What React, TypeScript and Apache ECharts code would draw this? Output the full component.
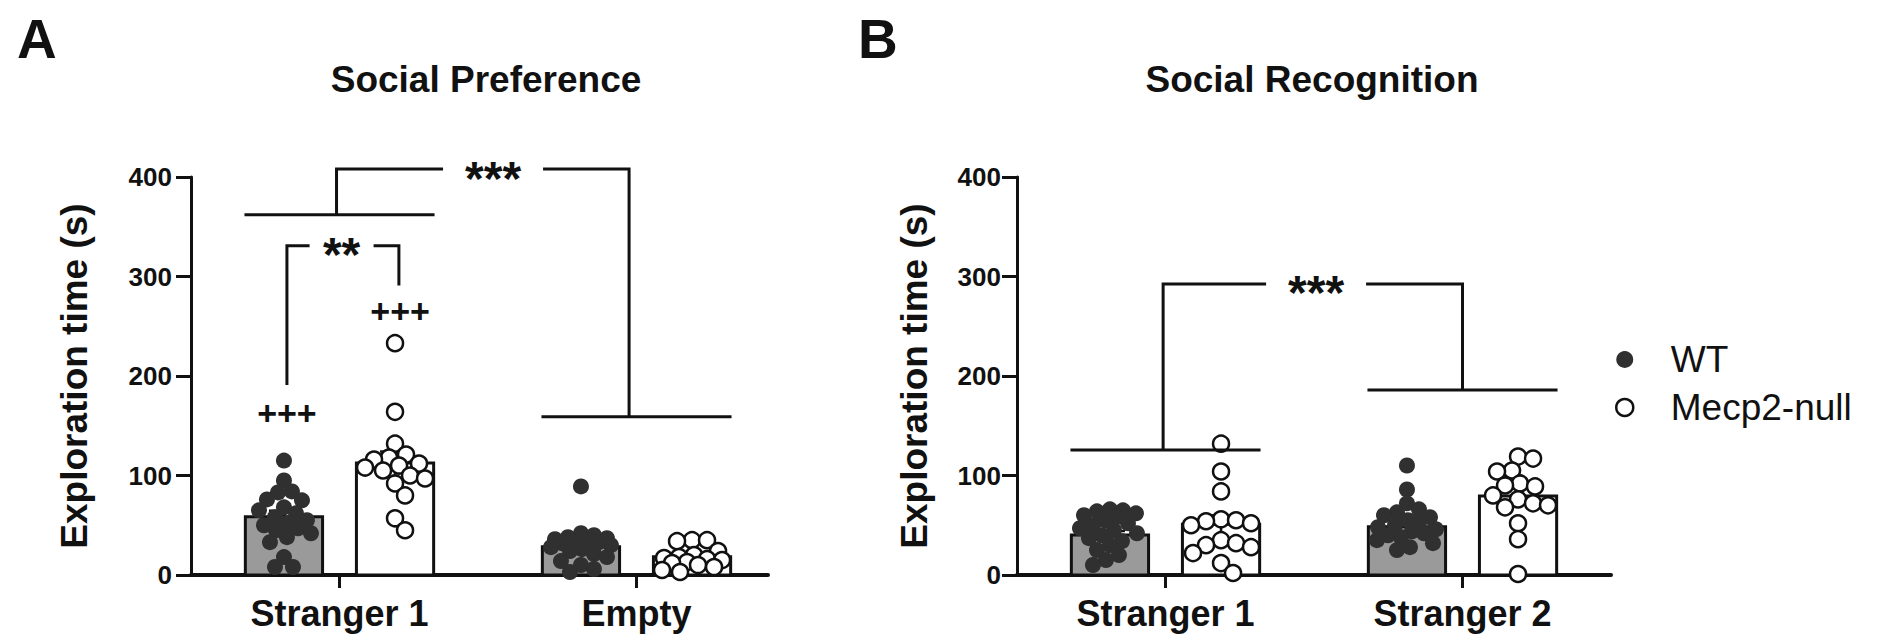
import React, { useEffect, useRef } from "react";
import * as echarts from "echarts";

const FONT = "'Liberation Sans', Arial, Helvetica, sans-serif";

// ---------- texts ----------
const panelLetters = ["A", "B"];
const panelTitles = ["Social Preference", "Social Recognition"];
const categoriesA = ["Stranger 1", "Empty"];
const categoriesB = ["Stranger 1", "Stranger 2"];
const seriesNames = ["WT", "Mecp2-null"];
const yAxisName = "Exploration time (s)";
const yMin = 0;
const yMax = 400;
const yStep = 100;

// ---------- bar means / SEM ----------
const meanWT_A = [58.6, 28.4];
const meanKO_A = [112.6, 18.4];
const semWT_A = [6, 4];
const semKO_A = [11.5, 3];
const meanWT_B = [40.2, 48.5];
const meanKO_B = [51, 79.4];
const semWT_B = [4, 5];
const semKO_B = [9, 8];

// ---------- individual animals ----------
const wtA_stranger1 = [115, 95, 84, 83, 76, 75, 68, 65, 62, 58, 55, 52, 50, 47, 45, 42, 38, 33, 18, 8, 8];
const koA_stranger1 = [233, 164, 132, 121, 118, 116, 112, 110, 108, 105, 100, 97, 92, 80, 57, 45];
const wtA_empty = [89, 42, 40, 38, 37, 36, 35, 34, 33, 32, 30, 28, 26, 24, 21, 18, 14, 10, 6, 3];
const koA_empty = [35, 35, 34, 24, 20, 18, 17, 16, 15, 13, 12, 10, 8, 5, 3];
const wtB_stranger1 = [66, 65, 64, 62, 60, 58, 55, 52, 50, 47, 45, 42, 40, 37, 34, 30, 25, 20, 15, 10];
const koB_stranger1 = [132, 104, 84, 56, 55, 54, 52, 50, 35, 32, 30, 28, 22, 12, 2];
const wtB_stranger2 = [110, 86, 72, 66, 63, 60, 58, 55, 53, 50, 48, 46, 44, 42, 40, 38, 35, 32, 28, 25];
const koB_stranger2 = [119, 117, 105, 104, 92, 90, 89, 80, 76, 72, 70, 68, 52, 36, 1];

// ---------- annotations (x in category units: category i is centred on i + 0.5) ----------
const plusLabel = "+++";
const plusMarksA = [
  [0.323, 163],
  [0.704, 265],
];
const pairLabel = "**";
// [xLeft, xRight, yLeft, yRight, yTop, labelX]
const pairBracketA = [0.323, 0.7, 191, 291, 331, 0.507];
const groupLabel = "***";
// [verticalLeft, verticalRight, groupLineLeftY, groupLineRightY, yTop, labelX]
const groupBracketA = [0.49, 1.475, 362, 159, 408, 1.017];
const groupBracketB = [0.492, 1.5, 125.6, 186, 292.5, 1.007];

// ---------- layout ----------
const GRID_TOP = 177;
const GRID_H = 398;
const PX_PER_X = 297; // pixels per category
const GRIDS = [
  { left: 191, width: 577 },
  { left: 1017, width: 594 },
];
const BAR_OFF = 0.187;
const BAR_HALF = 0.13;
const GROUP_HALF = 0.32;
const PX_PER_Y = GRID_H / (yMax - yMin);

const INK = "#111111";
const DOT = "#303030";
const BAR_GRAY = "#9a9a9a";

function swarmOffsets(values: number[], minDist: number, maxOff: number): number[] {
  const idx = values.map((_, i) => i).sort((a, b) => values[b] - values[a]);
  const placed: [number, number][] = [];
  const out = new Array(values.length).fill(0);
  for (const i of idx) {
    const y = values[i] * PX_PER_Y;
    let chosen = 0;
    let best = -1;
    for (let k = 0; k <= 2 * maxOff; k++) {
      const c = k % 2 === 1 ? (k + 1) / 2 : -k / 2;
      let md = Infinity;
      for (const [px, py] of placed) {
        const d = Math.hypot(px - c, py - y);
        if (d < md) md = d;
      }
      if (md >= minDist) {
        chosen = c;
        break;
      }
      if (md > best) {
        best = md;
        chosen = c;
      }
    }
    out[i] = chosen;
    placed.push([chosen, y]);
  }
  return out;
}

function pointsFor(values: number[], center: number, minDist: number) {
  const offs = swarmOffsets(values, minDist, 30);
  return values.map((v, i) => [center + offs[i] / PX_PER_X, v]);
}

function barRender(fill: string) {
  return (_params: any, api: any) => {
    const x = api.value(0);
    const m = api.value(1);
    const s = api.value(2);
    const bl = api.coord([x - BAR_HALF, 0]);
    const tr = api.coord([x + BAR_HALF, m]);
    const top = api.coord([x, m + s]);
    const bot = api.coord([x, Math.max(0, m - s)]);
    const cap = 15;
    const ls = { stroke: INK, lineWidth: 2.5 };
    return {
      type: "group",
      children: [
        {
          type: "rect",
          shape: { x: bl[0], y: tr[1], width: tr[0] - bl[0], height: bl[1] - tr[1] },
          style: { fill, stroke: INK, lineWidth: 3 },
        },
        { type: "line", shape: { x1: top[0], y1: top[1], x2: bot[0], y2: bot[1] }, style: ls },
        { type: "line", shape: { x1: top[0] - cap, y1: top[1], x2: top[0] + cap, y2: top[1] }, style: ls },
      ],
    };
  };
}

const lineStyle = { stroke: INK, lineWidth: 3, fill: "none" };

function starText(x: number, y: number, text: string, size: number, dy: number) {
  return {
    type: "text",
    x,
    y: y + dy,
    style: {
      text,
      fill: INK,
      fontSize: size,
      fontWeight: "bold",
      fontFamily: FONT,
      align: "center",
      verticalAlign: "middle",
    },
  };
}

function groupBracketRender(_params: any, api: any) {
  const v1 = api.value(0);
  const v2 = api.value(1);
  const y1 = api.value(2);
  const y2 = api.value(3);
  const yt = api.value(4);
  const lx = api.value(5);
  const c1 = Math.floor(v1) + 0.5;
  const c2 = Math.floor(v2) + 0.5;
  const a1 = api.coord([c1 - GROUP_HALF, y1]);
  const a2 = api.coord([c1 + GROUP_HALF, y1]);
  const b1 = api.coord([c2 - GROUP_HALF, y2]);
  const b2 = api.coord([c2 + GROUP_HALF, y2]);
  const p1 = api.coord([v1, y1]);
  const p1t = api.coord([v1, yt]);
  const p2 = api.coord([v2, y2]);
  const p2t = api.coord([v2, yt]);
  const L = api.coord([lx, yt]);
  const gap = 50;
  return {
    type: "group",
    children: [
      { type: "line", shape: { x1: a1[0], y1: a1[1], x2: a2[0], y2: a2[1] }, style: lineStyle },
      { type: "line", shape: { x1: b1[0], y1: b1[1], x2: b2[0], y2: b2[1] }, style: lineStyle },
      { type: "polyline", shape: { points: [p1, p1t, [L[0] - gap, p1t[1]]] }, style: lineStyle },
      { type: "polyline", shape: { points: [[L[0] + gap, p2t[1]], p2t, p2] }, style: lineStyle },
      starText(L[0], L[1], groupLabel, 48, 9),
    ],
  };
}

function pairBracketRender(_params: any, api: any) {
  const xl = api.value(0);
  const xr = api.value(1);
  const yl = api.value(2);
  const yr = api.value(3);
  const yt = api.value(4);
  const lx = api.value(5);
  const pl = api.coord([xl, yl]);
  const plt = api.coord([xl, yt]);
  const pr = api.coord([xr, yr]);
  const prt = api.coord([xr, yt]);
  const L = api.coord([lx, yt]);
  const gap = 32;
  return {
    type: "group",
    children: [
      { type: "polyline", shape: { points: [pl, plt, [L[0] - gap, plt[1]]] }, style: lineStyle },
      { type: "polyline", shape: { points: [[L[0] + gap, prt[1]], prt, pr] }, style: lineStyle },
      starText(L[0], L[1], pairLabel, 48, 9),
    ],
  };
}

function plusRender(_params: any, api: any) {
  const p = api.coord([api.value(0), api.value(1)]);
  return starText(p[0], p[1], plusLabel, 34, 0);
}

function buildOption(): any {
  const cats = [categoriesA, categoriesB];
  const means = [
    [meanWT_A, meanKO_A],
    [meanWT_B, meanKO_B],
  ];
  const sems = [
    [semWT_A, semKO_A],
    [semWT_B, semKO_B],
  ];
  const pts = [
    [
      [wtA_stranger1, wtA_empty],
      [koA_stranger1, koA_empty],
    ],
    [
      [wtB_stranger1, wtB_stranger2],
      [koB_stranger1, koB_stranger2],
    ],
  ];

  const grid = GRIDS.map((g) => ({ left: g.left, top: GRID_TOP, width: g.width, height: GRID_H }));

  const xAxis = cats.map((names, p) => {
    const centers = names.map((_, i) => i + 0.5);
    return {
      type: "value",
      gridIndex: p,
      min: 0,
      max: GRIDS[p].width / PX_PER_X,
      axisLine: { show: true, onZero: false, lineStyle: { color: INK, width: 4 } },
      axisTick: { show: true, customValues: centers, length: 13, lineStyle: { color: INK, width: 3 } },
      axisLabel: {
        show: true,
        customValues: centers,
        formatter: (v: number) => names[Math.round(v - 0.5)] ?? "",
        margin: 20,
        color: INK,
        fontSize: 36,
        fontWeight: "bold",
        fontFamily: FONT,
      },
      splitLine: { show: false },
    };
  });

  const yAxis = cats.map((_, p) => ({
    type: "value",
    gridIndex: p,
    min: yMin,
    max: yMax,
    interval: yStep,
    name: yAxisName,
    nameLocation: "middle",
    nameGap: p === 0 ? 98 : 84,
    nameTextStyle: { color: INK, fontSize: 37, fontWeight: "bold", fontFamily: FONT },
    axisLine: { show: true, lineStyle: { color: INK, width: 3 } },
    axisTick: { show: true, length: 15, lineStyle: { color: INK, width: 3 } },
    axisLabel: { margin: p === 0 ? 19 : 16, color: INK, fontSize: 26, fontWeight: "bold", fontFamily: FONT },
    splitLine: { show: false },
  }));

  const series: any[] = [];
  for (let p = 0; p < 2; p++) {
    const xAxisIndex = p;
    for (let g = 0; g < 2; g++) {
      const off = g === 0 ? -BAR_OFF : BAR_OFF;
      series.push({
        type: "custom",
        name: seriesNames[g] + " mean",
        xAxisIndex,
        yAxisIndex: p,
        z: 2,
        silent: true,
        renderItem: barRender(g === 0 ? BAR_GRAY : "#ffffff"),
        data: means[p][g].map((m, c) => [c + 0.5 + off, m, sems[p][g][c]]),
      });
    }
    for (let g = 0; g < 2; g++) {
      const off = g === 0 ? -BAR_OFF : BAR_OFF;
      const data: number[][] = [];
      pts[p][g].forEach((vals, c) => {
        data.push(...pointsFor(vals, c + 0.5 + off, g === 0 ? 13 : 15));
      });
      series.push({
        type: "scatter",
        name: seriesNames[g],
        xAxisIndex,
        yAxisIndex: p,
        z: 3,
        symbol: "circle",
        symbolSize: 16,
        itemStyle:
          g === 0
            ? { color: DOT, borderColor: DOT, borderWidth: 0, opacity: 1 }
            : { color: "#ffffff", borderColor: INK, borderWidth: 2.5, opacity: 1 },
        data,
      });
    }
    series.push({
      type: "custom",
      name: "group comparison " + p,
      xAxisIndex,
      yAxisIndex: p,
      z: 4,
      silent: true,
      renderItem: groupBracketRender,
      data: [p === 0 ? groupBracketA : groupBracketB],
    });
  }
  series.push({
    type: "custom",
    name: "pair comparison",
    xAxisIndex: 0,
    yAxisIndex: 0,
    z: 4,
    silent: true,
    renderItem: pairBracketRender,
    data: [pairBracketA],
  });
  series.push({
    type: "custom",
    name: "vs empty",
    xAxisIndex: 0,
    yAxisIndex: 0,
    z: 4,
    silent: true,
    renderItem: plusRender,
    data: plusMarksA,
  });

  const graphic = [
    { type: "text", x: 17, y: 39, style: { text: panelLetters[0], fill: INK, fontSize: 55, fontWeight: "bold", fontFamily: FONT, verticalAlign: "middle" } },
    { type: "text", x: 858, y: 39, style: { text: panelLetters[1], fill: INK, fontSize: 55, fontWeight: "bold", fontFamily: FONT, verticalAlign: "middle" } },
    { type: "text", x: 486, y: 79, style: { text: panelTitles[0], fill: INK, fontSize: 37, fontWeight: "bold", fontFamily: FONT, align: "center", verticalAlign: "middle" } },
    { type: "text", x: 1312, y: 79, style: { text: panelTitles[1], fill: INK, fontSize: 37, fontWeight: "bold", fontFamily: FONT, align: "center", verticalAlign: "middle" } },
  ];

  return {
    animation: false,
    backgroundColor: "#ffffff",
    textStyle: { fontFamily: FONT },
    grid,
    xAxis,
    yAxis,
    legend: {
      orient: "vertical",
      left: 1615,
      top: 341,
      itemWidth: 82,
      itemHeight: 17,
      itemGap: 11,
      selectedMode: false,
      padding: 0,
      textStyle: { color: INK, fontSize: 37, fontFamily: FONT, lineHeight: 37 },
      data: [
        { name: seriesNames[0], icon: "circle", itemStyle: { color: DOT, borderWidth: 0 } },
        { name: seriesNames[1], icon: "circle", itemStyle: { color: "#ffffff", borderColor: INK, borderWidth: 2.5 } },
      ],
    },
    graphic,
    series,
  };
}

export default function App() {
  const ref = useRef<HTMLDivElement>(null);
  useEffect(() => {
    if (!ref.current) return;
    const chart = echarts.init(ref.current, undefined, { renderer: "svg" });
    chart.setOption(buildOption());
    return () => chart.dispose();
  }, []);
  return (
    <div
      ref={ref}
      style={{ position: "absolute", left: 0, top: 0, width: 1896, height: 636, background: "#fff" }}
    />
  );
}
